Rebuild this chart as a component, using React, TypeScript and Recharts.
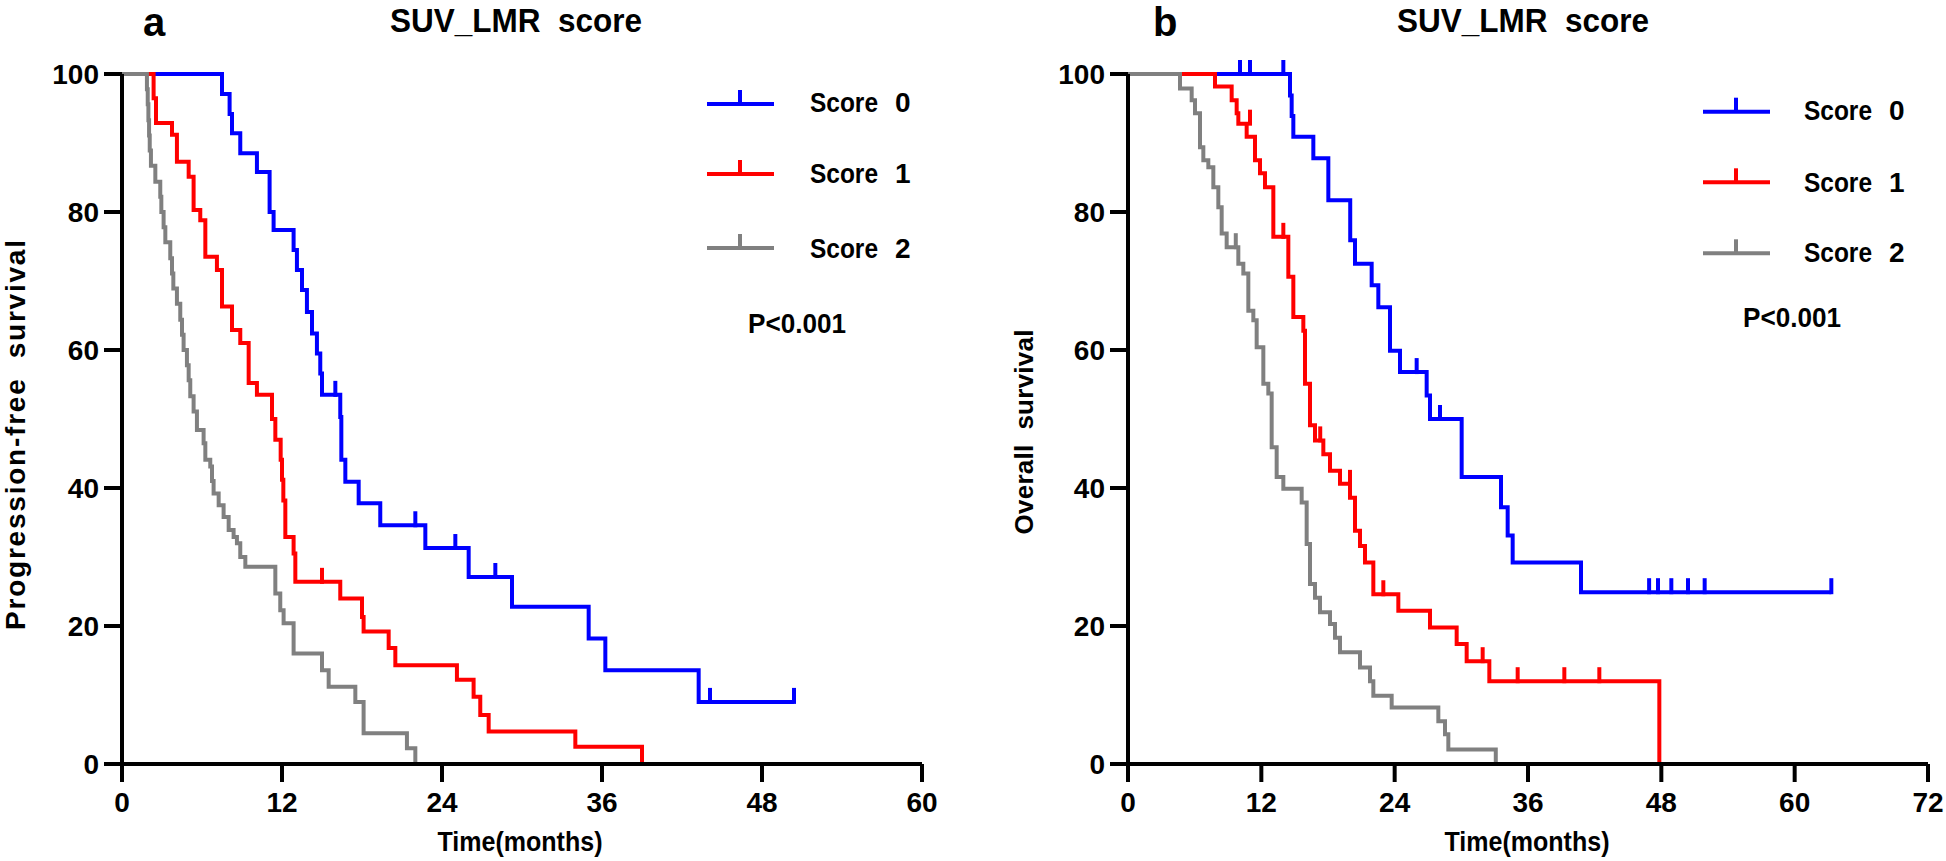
import React from 'react';
import { ComposedChart, Line, Scatter, XAxis, YAxis } from 'recharts';

type Pt = [number, number];

// ---------- data ----------
const seriesNames = ['Score 0', 'Score 1', 'Score 2'];
const seriesColors = ['#0000FF', '#FF0000', '#808080'];
const yTicks = [0, 20, 40, 60, 80, 100];
const xTicksA = [0, 12, 24, 36, 48, 60];
const xTicksB = [0, 12, 24, 36, 48, 60, 72];

// Panel a: progression-free survival (months, %)
const pfsScore0: Pt[] = [
  [0, 100], [7.5, 97.1], [8.07, 94.2], [8.25, 91.4], [8.87, 88.5], [10.12, 85.8], [11.07, 80.0],
  [11.37, 77.4], [12.87, 74.5], [13.12, 71.6], [13.5, 68.7], [13.87, 65.5], [14.25, 62.4],
  [14.62, 59.5], [14.87, 56.6], [15.0, 53.5], [16.37, 50.3], [16.45, 44.1], [16.75, 40.9],
  [17.75, 37.8], [19.37, 34.6], [22.75, 31.3], [26.0, 27.1], [29.25, 22.8], [35.0, 18.2],
  [36.25, 13.6], [43.25, 9.0], [50.4, 9.0],
];
const pfsScore1: Pt[] = [
  [0, 100], [2.37, 96.5], [2.55, 92.9], [3.75, 91.2], [4.12, 87.3], [5.0, 85.1], [5.37, 80.3],
  [5.87, 78.8], [6.25, 73.5], [7.12, 71.6], [7.5, 66.3], [8.25, 62.9], [8.87, 61.0], [9.5, 55.2],
  [10.12, 53.5], [11.25, 50.0], [11.5, 47.0], [11.9, 44.1], [12.0, 41.2], [12.1, 38.2],
  [12.25, 32.9], [12.87, 30.5], [13.0, 26.4], [16.37, 24.0], [18.0, 21.3], [18.12, 19.2],
  [20.0, 16.8], [20.5, 14.3], [25.12, 12.2], [26.37, 9.75], [26.87, 7.1], [27.5, 4.7],
  [34.0, 2.5], [39.0, 0],
];
const pfsScore2: Pt[] = [
  [0, 100], [1.87, 97.8], [1.93, 95.6], [1.98, 93.3], [2.03, 91.1], [2.08, 88.9], [2.17, 86.7],
  [2.5, 84.4], [2.87, 82.2], [2.95, 80.0], [3.12, 77.8], [3.25, 75.6], [3.62, 73.3], [3.75, 71.1],
  [3.85, 68.9], [4.12, 66.7], [4.37, 64.4], [4.5, 62.2], [4.62, 60.0], [4.87, 57.8], [5.0, 55.6],
  [5.12, 53.3], [5.37, 51.1], [5.62, 48.4], [6.12, 46.5], [6.25, 44.1], [6.62, 43.1], [6.75, 41.0],
  [6.87, 39.2], [7.25, 37.5], [7.62, 35.8], [8.0, 33.9], [8.37, 32.9], [8.62, 32.0], [8.87, 30.0],
  [9.25, 28.6], [11.5, 24.7], [11.87, 22.3], [12.12, 20.4], [12.87, 16.0], [15.0, 13.6],
  [15.5, 11.2], [17.5, 9.0], [18.12, 4.45], [21.37, 2.3], [22.0, 0],
];
const pfsCensor0: Pt[] = [[16.0, 53.5], [22.0, 34.6], [25.0, 31.3], [28.0, 27.1], [44.1, 9.0], [50.4, 9.0]];
const pfsCensor1: Pt[] = [[15.0, 26.4]];
const pfsCensor2: Pt[] = [];

// Panel b: overall survival (months, %)
const osScore0: Pt[] = [
  [0, 100], [14.58, 96.9], [14.73, 93.9], [14.88, 90.9], [16.68, 87.8], [18.03, 81.7],
  [20.0, 75.9], [20.43, 72.5], [21.93, 69.4], [22.53, 66.2], [23.58, 59.9], [24.48, 56.8],
  [26.88, 53.4], [27.18, 50.0], [30.03, 41.6], [33.57, 37.2], [34.17, 33.1], [34.62, 29.2],
  [40.77, 24.9], [63.3, 24.9],
];
const osScore1: Pt[] = [
  [0, 100], [7.83, 98.2], [9.33, 96.2], [9.78, 94.3], [9.93, 92.8], [10.68, 90.9], [11.43, 87.5],
  [11.88, 85.6], [12.33, 83.6], [13.08, 76.4], [14.43, 70.6], [14.88, 64.8], [15.78, 62.8],
  [15.93, 55.1], [16.38, 49.1], [16.83, 46.9], [17.58, 44.9], [18.18, 42.5], [19.08, 40.6],
  [19.98, 38.6], [20.43, 33.8], [20.88, 31.6], [21.33, 29.2], [22.08, 24.6], [24.33, 22.2],
  [27.18, 19.8], [29.58, 17.4], [30.48, 14.9], [32.52, 12.0], [47.82, 0],
];
const osScore2: Pt[] = [
  [0, 100], [4.68, 97.9], [5.73, 96.2], [6.03, 94.3], [6.48, 89.4], [6.78, 87.5], [7.23, 86.5],
  [7.68, 83.6], [8.13, 80.7], [8.43, 76.9], [8.88, 74.9], [9.93, 72.5], [10.38, 71.1],
  [10.83, 65.7], [11.28, 64.3], [11.58, 60.4], [12.18, 55.1], [12.63, 53.7], [12.93, 45.9],
  [13.38, 41.6], [13.98, 39.9], [15.63, 37.9], [16.08, 31.9], [16.38, 26.1], [16.83, 24.1],
  [17.28, 22.0], [18.18, 20.3], [18.63, 18.3], [19.08, 16.2], [20.88, 14.0], [21.78, 12.0],
  [22.08, 9.9], [23.73, 8.2], [27.93, 6.2], [28.53, 4.3], [28.83, 2.1], [33.1, 0],
];
const osCensor0: Pt[] = [
  [10.08, 100], [10.98, 100], [13.98, 100], [25.98, 56.8], [28.08, 50.0],
  [46.9, 24.9], [47.7, 24.9], [48.9, 24.9], [50.4, 24.9], [51.9, 24.9], [63.3, 24.9],
];
const osCensor1: Pt[] = [
  [10.98, 92.8], [13.98, 76.4], [17.3, 46.9], [19.98, 40.6], [22.98, 24.6],
  [31.92, 14.9], [35.07, 12.0], [39.27, 12.0], [42.42, 12.0],
];
const osCensor2: Pt[] = [[9.7, 74.9]];

// ---------- rendering ----------
const FONT = "'Liberation Sans', Arial, Helvetica, sans-serif";
const rows = (pts: Pt[]) => pts.map(([t, s]) => ({ t, s }));

const censorShape = (color: string) => (props: any) => {
  const { cx, cy } = props;
  if (cx == null || cy == null) return <g />;
  return <line x1={cx} x2={cx} y1={cy + 2} y2={cy - 14} stroke={color} strokeWidth={4} />;
};

type PanelProps = {
  width: number;
  plotLeft: number;
  plotRight: number;
  xMax: number;
  xTicks: number[];
  curves: Pt[][];
  censors: Pt[][];
  letter: string;
  letterX: number;
  title: string;
  titleX: number;
  yLabel: string;
  yLabelX: number;
  yLabelY: number;
  yLabelLen: number;
  yLabelSize: number;
  xLabelX: number;
  legendLineX: number;
  legendYs: number[];
  legendTextX: number;
  legendTextYs: number[];
  pX: number;
  pY: number;
};

const Panel = (p: PanelProps) => {
  const txt = { fontFamily: FONT, fontWeight: 'bold' as const, fill: '#000' };
  const pre = { whiteSpace: 'pre' as const };
  return (
    <ComposedChart
      width={p.width}
      height={861}
      margin={{ top: 74, right: p.width - p.plotRight, bottom: 0, left: 0 }}
    >
      <XAxis
        dataKey="t"
        type="number"
        domain={[0, p.xMax]}
        ticks={p.xTicks}
        allowDataOverflow
        height={97}
        tickSize={18}
        tickMargin={10}
        axisLine={{ stroke: '#000', strokeWidth: 4 }}
        tickLine={{ stroke: '#000', strokeWidth: 4 }}
        tick={{ fill: '#000', fontSize: 28, fontWeight: 'bold', fontFamily: FONT }}
      />
      <YAxis
        type="number"
        domain={[0, 100]}
        ticks={yTicks}
        width={p.plotLeft}
        tickSize={18}
        tickMargin={5}
        axisLine={{ stroke: '#000', strokeWidth: 4 }}
        tickLine={{ stroke: '#000', strokeWidth: 4 }}
        tick={{ fill: '#000', fontSize: 28, fontWeight: 'bold', fontFamily: FONT }}
      />
      {p.curves.map((c, i) => (
        <Line
          key={'l' + i}
          data={rows(c)}
          dataKey="s"
          name={seriesNames[i]}
          type="stepAfter"
          stroke={seriesColors[i]}
          strokeWidth={4}
          dot={false}
          activeDot={false}
          isAnimationActive={false}
        />
      ))}
      {p.censors.map((c, i) =>
        c.length ? (
          <Scatter
            key={'c' + i}
            data={rows(c)}
            dataKey="s"
            name={seriesNames[i] + ' censored'}
            shape={censorShape(seriesColors[i])}
            isAnimationActive={false}
          />
        ) : null
      )}
      <text x={p.letterX} y={36} fontSize={40} {...txt}>{p.letter}</text>
      <text
        x={p.titleX}
        y={32}
        fontSize={34}
        textLength={252}
        lengthAdjust="spacingAndGlyphs"
        xmlSpace="preserve"
        style={pre}
        {...txt}
      >
        {p.title}
      </text>
      <text
        transform={`translate(${p.yLabelX},${p.yLabelY}) rotate(-90)`}
        textAnchor="middle"
        fontSize={p.yLabelSize}
        textLength={p.yLabelLen}
        lengthAdjust="spacing"
        xmlSpace="preserve"
        style={pre}
        {...txt}
      >
        {p.yLabel}
      </text>
      <text x={p.xLabelX} y={851} textAnchor="middle" fontSize={28} textLength={165} lengthAdjust="spacingAndGlyphs" {...txt}>
        Time(months)
      </text>
      {seriesNames.map((n, i) => {
        const parts = n.split(' ');
        const ly = p.legendYs[i];
        return (
          <g key={'lg' + i}>
            <line x1={p.legendLineX} x2={p.legendLineX + 67} y1={ly} y2={ly} stroke={seriesColors[i]} strokeWidth={4} />
            <line x1={p.legendLineX + 33} x2={p.legendLineX + 33} y1={ly} y2={ly - 14} stroke={seriesColors[i]} strokeWidth={4} />
            <text x={p.legendTextX} y={p.legendTextYs[i]} fontSize={28} textLength={68} lengthAdjust="spacingAndGlyphs" {...txt}>
              {parts[0]}
            </text>
            <text x={p.legendTextX + 85} y={p.legendTextYs[i]} fontSize={28} {...txt}>
              {parts[1]}
            </text>
          </g>
        );
      })}
      <text x={p.pX} y={p.pY} fontSize={28} textLength={98} lengthAdjust="spacingAndGlyphs" {...txt}>
        P&lt;0.001
      </text>
    </ComposedChart>
  );
};

export default function App() {
  return (
    <div style={{ position: 'absolute', left: 0, top: 0, width: 1946, height: 861, background: '#fff' }}>
      <div style={{ position: 'absolute', left: 0, top: 0 }}>
        <Panel
          width={990}
          plotLeft={122}
          plotRight={922}
          xMax={60}
          xTicks={xTicksA}
          curves={[pfsScore0, pfsScore1, pfsScore2]}
          censors={[pfsCensor0, pfsCensor1, pfsCensor2]}
          letter="a"
          letterX={143}
          title="SUV_LMR  score"
          titleX={390}
          yLabel="Progression-free  survival"
          yLabelX={25}
          yLabelY={435}
          yLabelLen={390}
          yLabelSize={28}
          xLabelX={520}
          legendLineX={707}
          legendYs={[104, 174, 248]}
          legendTextX={810}
          legendTextYs={[111.7, 183.3, 258.3]}
          pX={748}
          pY={333}
        />
      </div>
      <div style={{ position: 'absolute', left: 990, top: 0 }}>
        <Panel
          width={956}
          plotLeft={138}
          plotRight={938}
          xMax={72}
          xTicks={xTicksB}
          curves={[osScore0, osScore1, osScore2]}
          censors={[osCensor0, osCensor1, osCensor2]}
          letter="b"
          letterX={163}
          title="SUV_LMR  score"
          titleX={407}
          yLabel="Overall  survival"
          yLabelX={43}
          yLabelY={432}
          yLabelLen={205}
          yLabelSize={26}
          xLabelX={537}
          legendLineX={713}
          legendYs={[111.7, 182.3, 253.3]}
          legendTextX={814}
          legendTextYs={[120, 191.7, 261.7]}
          pX={753}
          pY={326.7}
        />
      </div>
    </div>
  );
}
